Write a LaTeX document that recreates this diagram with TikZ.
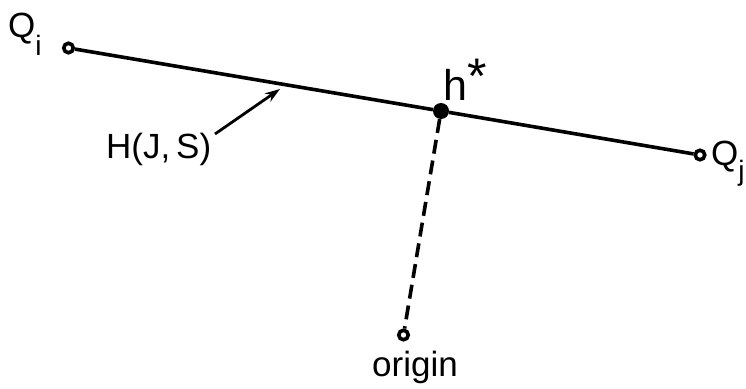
\documentclass[tikz,border=0pt]{standalone}
\usepackage{fontspec}
\setmainfont{Liberation Sans}
\usetikzlibrary{arrows.meta}
\newcommand{\lsub}[2]{\raisebox{-#1}{\fontsize{28}{28}\selectfont #2}}
\begin{document}
\begin{tikzpicture}[x=1pt,y=-1pt,
  lbl/.style={font=\fontsize{35}{36}\selectfont, inner sep=0pt},
  endpt/.style={circle, draw, line width=3.6pt, fill=white, minimum size=9.5pt, inner sep=0pt},
  hdot/.style={circle, fill=black, minimum size=16pt, inner sep=0pt},
  seg/.style={line width=3.6pt}]
\useasboundingbox (0,0) rectangle (746,388);
\node[hdot] (h) at (441,111) {};
\node[endpt] (qi) at (68.5,48) {};
\node[endpt] (qj) at (700,155) {};
\node[endpt] (o) at (403.5,335) {};
\draw[seg] (qi) -- (h) -- (qj);
\draw[seg, dash pattern=on 14pt off 7pt] (h) -- (o);
\node[lbl, anchor=base west] (lqi) at (8,37) {Q\lsub{18pt}{i}};
\node[lbl, anchor=base west] (lqj) at (711,165) {Q\lsub{15pt}{j}};
\node[lbl, font=\fontsize{43}{44}\selectfont, anchor=base west] (lh) at (443,100) {h\raisebox{7pt}{\fontsize{50}{50}\selectfont *}};
\node[lbl, anchor=base west] (lo) at (372,376) {origin};
\node[lbl, anchor=base west] (lH) at (106,158) {H(J,\,S)};
\coordinate (as) at (215,134);
\coordinate (ae) at (280,89);
\draw[line width=2.8pt, -{Stealth[length=15pt,width=10pt]}] (as) -- (ae);
\end{tikzpicture}
\end{document}
